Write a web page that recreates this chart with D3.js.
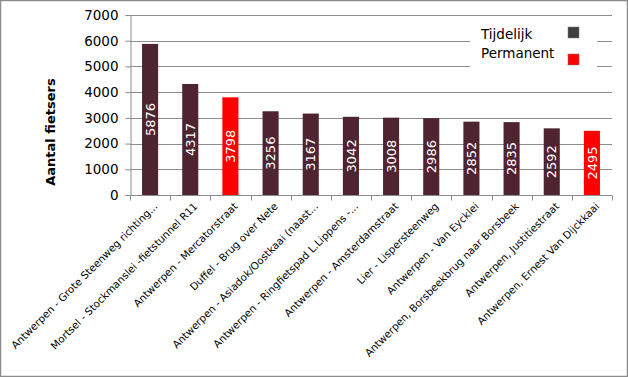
<!DOCTYPE html>
<html lang="nl">
<head>
<meta charset="UTF-8">
<title>Aantal fietsers</title>
<style>
  body { margin: 0; background: #fff; }
  svg { display: block; font-family: "DejaVu Sans", Verdana, sans-serif; }
  .grid line { stroke: #8c8c8c; stroke-width: 1; }
  .axis path, .axis line { stroke: #8c8c8c; }
</style>
</head>
<body>
<svg width="628" height="377"></svg>
<script src="https://cdn.jsdelivr.net/npm/d3@7"></script>
<script>
var categories = [
  "Antwerpen - Grote Steenweg richting...",
  "Mortsel - Stockmanslei -fietstunnel R11",
  "Antwerpen - Mercatorstraat",
  "Duffel - Brug over Nete",
  "Antwerpen - Asiadok/Oostkaai (naast...",
  "Antwerpen - Ringfietspad L.Lippens -...",
  "Antwerpen - Amsterdamstraat",
  "Lier - Lispersteenweg",
  "Antwerpen - Van Eycklei",
  "Antwerpen, Borsbeekbrug naar Borsbeek",
  "Antwerpen, Justitiestraat",
  "Antwerpen, Ernest Van Dijckkaai"
];
var values = [5876, 4317, 3798, 3256, 3167, 3042, 3008, 2986, 2852, 2835, 2592, 2495];
var types = ["Tijdelijk", "Tijdelijk", "Permanent", "Tijdelijk", "Tijdelijk", "Tijdelijk",
             "Tijdelijk", "Tijdelijk", "Tijdelijk", "Tijdelijk", "Tijdelijk", "Permanent"];
var yTicks = [0, 1000, 2000, 3000, 4000, 5000, 6000, 7000];
var legendItems = ["Tijdelijk", "Permanent"];

var svg = d3.select("svg");
var margin = {left: 130, right: 16, top: 15, bottom: 182};
var width = 628 - margin.left - margin.right;
var height = 377 - margin.top - margin.bottom;

// outer frame
svg.append("rect")
  .attr("x", 0.5).attr("y", 0.5)
  .attr("width", 627).attr("height", 376)
  .attr("fill", "#fff").attr("stroke", "#8c8c8c").attr("stroke-width", 1.5);

var g = svg.append("g").attr("transform", "translate(" + margin.left + "," + margin.top + ")");

var x = d3.scaleBand().domain(categories).range([0, width]).paddingInner(0.6).paddingOuter(0.3);
var y = d3.scaleLinear().domain([0, 7000]).range([height, 0]);
var barColor = d3.scaleOrdinal().domain(legendItems).range(["#4f2431", "#ff0000"]);
var swatchColor = d3.scaleOrdinal().domain(legendItems).range(["#3f3f3f", "#ff0000"]);

// gridlines
g.append("g").attr("class", "grid")
  .selectAll("line").data(yTicks.slice(1)).enter().append("line")
  .attr("x1", 0).attr("x2", width)
  .attr("y1", function(d) { return Math.round(y(d)) + 0.5; })
  .attr("y2", function(d) { return Math.round(y(d)) + 0.5; });

// y axis
var yAxis = g.append("g").attr("class", "axis")
  .attr("transform", "translate(0.5,0)")
  .call(d3.axisLeft(y).tickValues(yTicks).tickSize(5).tickPadding(7).tickFormat(d3.format("d")));
yAxis.selectAll("text").attr("font-size", 13.5).attr("fill", "#000").attr("font-family", "DejaVu Sans, sans-serif");

// x axis with ticks at category boundaries
var xAxisG = g.append("g").attr("class", "axis")
  .attr("transform", "translate(0," + (height + 0.5) + ")");
xAxisG.append("line").attr("x1", 0).attr("x2", width).attr("stroke", "#8c8c8c");
xAxisG.selectAll(".tk").data(d3.range(categories.length + 1)).enter().append("line")
  .attr("class", "tk")
  .attr("x1", function(i) { return Math.round(i * width / categories.length) + 0.5; })
  .attr("x2", function(i) { return Math.round(i * width / categories.length) + 0.5; })
  .attr("y1", 0).attr("y2", 5).attr("stroke", "#8c8c8c");

// bars
g.selectAll(".bar").data(categories).enter().append("rect")
  .attr("class", "bar")
  .attr("x", function(d) { return x(d); })
  .attr("width", x.bandwidth())
  .attr("y", function(d, i) { return y(values[i]); })
  .attr("height", function(d, i) { return height - y(values[i]); })
  .attr("fill", function(d, i) { return barColor(types[i]); });

// value labels
g.selectAll(".val").data(categories).enter().append("text")
  .attr("class", "val")
  .attr("transform", function(d, i) {
    var cx = x(d) + x.bandwidth() / 2;
    var cy = (y(values[i]) + height) / 2;
    return "translate(" + cx + "," + cy + ") rotate(-90)";
  })
  .attr("text-anchor", "middle")
  .attr("dy", "0.36em")
  .attr("font-size", 13)
  .attr("fill", "#fff")
  .text(function(d, i) { return values[i]; });

// category labels
g.selectAll(".cat").data(categories).enter().append("text")
  .attr("class", "cat")
  .attr("transform", function(d) {
    return "translate(" + (x(d) + x.bandwidth() / 2 + 8) + "," + (height + 12) + ") rotate(-45)";
  })
  .attr("text-anchor", "end")
  .attr("font-size", 10.3)
  .attr("fill", "#000")
  .text(function(d) { return d; });

// y title
svg.append("text")
  .attr("transform", "translate(55,132) rotate(-90)")
  .attr("text-anchor", "middle")
  .attr("font-size", 13)
  .attr("font-weight", "bold")
  .text("Aantal fietsers");

// legend
var legend = svg.append("g").attr("transform", "translate(470,20)");
legend.append("rect").attr("width", 127).attr("height", 50).attr("fill", "#fff");
var li = legend.selectAll(".li").data(legendItems).enter().append("g")
  .attr("transform", function(d, i) { return "translate(0," + (i * 19) + ")"; });
li.append("text").attr("x", 11).attr("y", 19).attr("font-size", 13.5).text(function(d) { return d; });
li.append("rect").attr("x", 98).attr("y", function(d, i) { return i === 0 ? 7 : 15; })
  .attr("width", 11).attr("height", 11)
  .attr("fill", function(d) { return swatchColor(d); })
  .attr("stroke", "#7a7a7a").attr("stroke-width", 0.5);
</script>
</body>
</html>
